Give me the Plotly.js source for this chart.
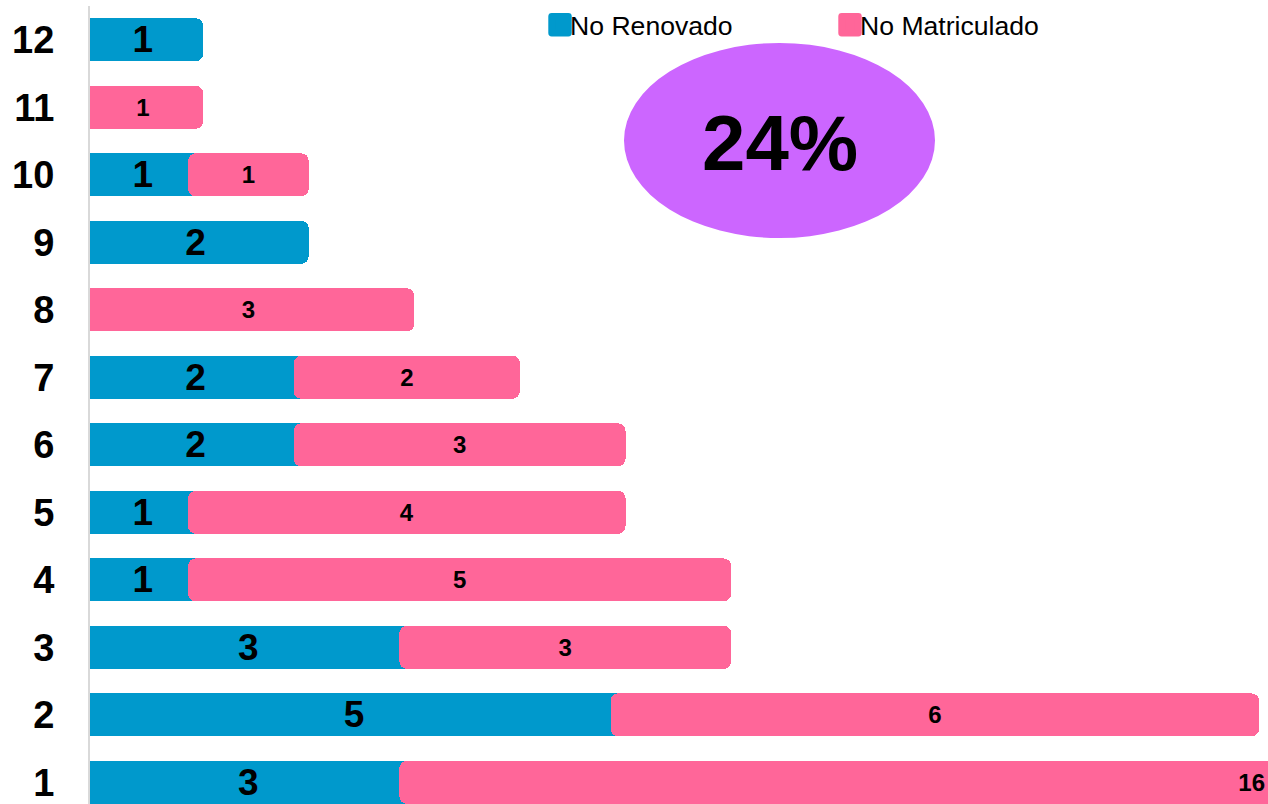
<!DOCTYPE html>
<html>
<head>
<meta charset="utf-8">
<script src="https://cdn.plot.ly/plotly-3.0.1.min.js"></script>
<style>
  html, body { margin: 0; padding: 0; background: #fff; }
  #chart { width: 1268px; height: 804px; }
  /* rounded bar ends, like the original sheet */
  #chart .bars path, #chart .legendpoints path { stroke-linejoin: round; }
  /* bigger legend swatches, set next to the text */
  #chart .legendpoints path {
    transform-box: fill-box;
    transform-origin: center;
    transform: translate(30px, 0px) scale(1.38);
  }
</style>
</head>
<body>
<div id="chart"></div>
<script>
// categories, bottom to top
var grupos = ["1", "2", "3", "4", "5", "6", "7", "8", "9", "10", "11", "12"];
var noRenovado = [3, 5, 3, 1, 1, 2, 2, null, 2, 1, null, 1];
var noMatriculado = [16, 6, 3, 5, 4, 3, 2, 3, null, 1, 1, null];
var porcentaje = "24%";

var azul = "#0099CC";
var rosa = "#FF6699";

function etiquetas(vals) {
    return vals.map(function (v) { return v ? String(v) : ""; });
}

var traceRenovado = {
    name: "No Renovado",
    type: "bar",
    orientation: "h",
    y: grupos,
    x: noRenovado,
    text: etiquetas(noRenovado),
    textposition: "inside",
    insidetextanchor: "middle",
    textangle: 0,
    constraintext: "none",
    textfont: {family: "Liberation Sans, Arial", size: 37, color: "#000", weight: "bold"},
    marker: {color: azul, line: {color: azul, width: 15}},
    hoverinfo: "x+name"
};

var traceMatriculado = {
    name: "No Matriculado",
    type: "bar",
    orientation: "h",
    y: grupos,
    x: noMatriculado,
    text: etiquetas(noMatriculado),
    textposition: "inside",
    insidetextanchor: "middle",
    textangle: 0,
    constraintext: "none",
    textfont: {family: "Liberation Sans, Arial", size: 24, color: "#000", weight: "bold"},
    marker: {color: rosa, line: {color: rosa, width: 15}},
    hoverinfo: "x+name"
};

var layout = {
    width: 1268,
    height: 804,
    margin: {l: 90, r: 0, t: 6, b: 0, autoexpand: false},
    paper_bgcolor: "#fff",
    plot_bgcolor: "#fff",
    barmode: "stack",
    bargap: 0.585,
    showlegend: true,
    legend: {
        orientation: "h",
        xref: "container", yref: "container",
        x: 0.418, y: 1 - 25 / 804, xanchor: "left", yanchor: "middle",
        entrywidth: 245,
        font: {family: "Liberation Sans, Arial", size: 26.6, color: "#000"},
        bgcolor: "rgba(0,0,0,0)",
        traceorder: "normal"
    },
    xaxis: {
        range: [0, 11.155],
        visible: false,
        showgrid: false,
        zeroline: false,
        fixedrange: true
    },
    yaxis: {
        type: "category",
        range: [-0.32, 11.5],
        showline: true,
        linecolor: "#d9d9d9",
        linewidth: 2,
        showgrid: false,
        ticks: "",
        ticklabelstandoff: 26,
        tickfont: {family: "Liberation Sans, Arial", size: 38, color: "#000", weight: "bold"},
        fixedrange: true
    },
    shapes: [{
        type: "circle",
        xref: "paper", yref: "paper",
        x0: (624 - 90) / 1178, x1: (935 - 90) / 1178,
        y0: (798 - (238 - 6)) / 798, y1: (798 - (43 - 6)) / 798,
        fillcolor: "#CC66FF",
        line: {width: 0},
        layer: "above"
    }],
    annotations: [{
        text: porcentaje,
        xref: "paper", yref: "paper",
        x: (780 - 90) / 1178, y: (798 - (143 - 6)) / 798,
        xanchor: "center", yanchor: "middle",
        showarrow: false,
        font: {family: "Liberation Sans, Arial", size: 78, color: "#000", weight: "bold"}
    }]
};

Plotly.newPlot("chart", [traceRenovado, traceMatriculado], layout, {displayModeBar: false, staticPlot: true});
</script>
</body>
</html>
